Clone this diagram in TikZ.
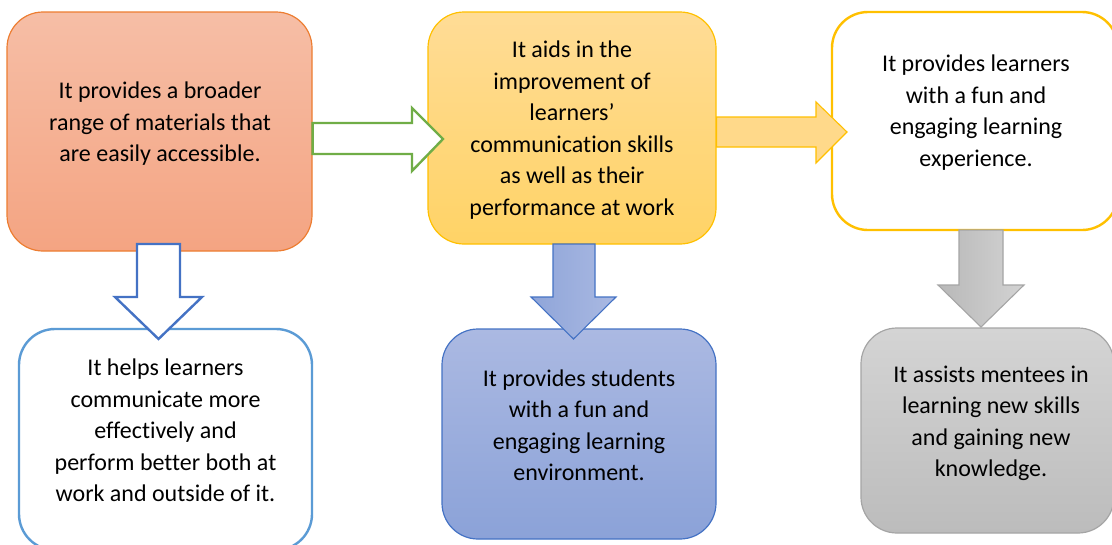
\documentclass[tikz,border=0pt]{standalone}
\usepackage{fontspec}
\setmainfont{Carlito}[Ligatures={NoCommon}]
\usetikzlibrary{calc}
\definecolor{orT}{HTML}{F6BEA6}
\definecolor{orB}{HTML}{F4A482}
\definecolor{orD}{HTML}{ED7D31}
\definecolor{yeT}{HTML}{FFDC96}
\definecolor{yeB}{HTML}{FFD366}
\definecolor{gold}{HTML}{FFC000}
\definecolor{yeA}{HTML}{FFD98A}
\definecolor{blT}{HTML}{ABB9E2}
\definecolor{blB}{HTML}{8BA2D8}
\definecolor{blD}{HTML}{4472C4}
\definecolor{blL}{HTML}{8FA5D9}
\definecolor{blR}{HTML}{AAB9E2}
\definecolor{lbD}{HTML}{5B9BD5}
\definecolor{grT}{HTML}{D4D4D4}
\definecolor{grB}{HTML}{BCBCBC}
\definecolor{grD}{HTML}{A5A5A5}
\definecolor{grL}{HTML}{B8B8B8}
\definecolor{grR}{HTML}{D3D3D3}
\definecolor{grnD}{HTML}{70AD47}
\begin{document}
\begin{tikzpicture}[x=1pt,y=-1pt,
  box/.style={rectangle, rounded corners=36pt, inner sep=0pt, line width=1.2pt},
  txt/.style={font=\fontsize{24}{31.5}\selectfont, align=center, text=black, inner sep=0pt},
  outarrow/.style={fill=white, line width=2.4pt, line join=miter},
  solidarrow/.style={line width=1.1pt, line join=miter}]
\useasboundingbox (0,0) rectangle (1112,544);
\clip (0,0) rectangle (1112,544);
\fill[white] (0,0) rectangle (1112,544);

% boxes
\node[box, draw=orD, top color=orT, bottom color=orB, minimum width=305pt, minimum height=239pt] (o) at (159.5,131.5) {};
\node[box, draw=gold, top color=yeT, bottom color=yeB, minimum width=288pt, minimum height=232pt] (y) at (572,128) {};
\node[box, draw=gold, line width=2.4pt, fill=white, minimum width=286pt, minimum height=218pt] (w) at (975,121) {};
\node[box, draw=lbD, line width=2.4pt, fill=white, minimum width=293pt, minimum height=221pt] (lb) at (165.5,439.5) {};
\node[box, draw=blD, top color=blT, bottom color=blB, minimum width=274pt, minimum height=210pt] (b) at (579,434) {};
\node[box, draw=grD, top color=grT, bottom color=grB, minimum width=253pt, minimum height=205pt] (g) at (987.5,430.5) {};

% arrows
\coordinate (gt) at (443,139);
\draw[outarrow, draw=grnD] (o.east |- 0,123) -- (412,123) -- (412,108) -- (gt) -- (412,171) -- (412,154) -- (o.east |- 0,154) -- cycle;
\coordinate (yt) at (847,132);
\draw[solidarrow, draw=gold, fill=yeA] (y.east |- 0,117) -- (816,117) -- (816,102) -- (yt) -- (816,163) -- (816,147) -- (y.east |- 0,147) -- cycle;
\coordinate (bt1) at (158.5,339);
\draw[outarrow, draw=blD] (137,244) -- (180,244) -- (180,297) -- (202,297) -- (bt1) -- (115,297) -- (137,297) -- cycle;
\coordinate (bt2) at (573.5,339);
\draw[solidarrow, draw=blD, left color=blL, right color=blR] (553,244) -- (595,244) -- (595,297) -- (616,297) -- (bt2) -- (531,297) -- (553,297) -- cycle;
\coordinate (gt2) at (981,327);
\draw[solidarrow, draw=grD, left color=grL, right color=grR] (959,230) -- (1003,230) -- (1003,285) -- (1024,285) -- (gt2) -- (938,285) -- (959,285) -- cycle;

% texts
\node[txt] (ot) at (160,124) {It provides a broader\\range of materials that\\are easily accessible.};
\node[txt] (yt2) at (572,130) {It aids in the\\improvement of\\learners’\\communication skills\\as well as their\\performance at work};
\node[txt] (wt) at (976,112.5) {It provides learners\\with a fun and\\engaging learning\\experience.};
\node[txt] (lbt) at (165.5,430.5) {It helps learners\\communicate more\\effectively and\\perform better both at\\work and outside of it.};
\node[txt] (bt) at (579,425.5) {It provides students\\with a fun and\\engaging learning\\environment.};
\node[txt] (gtx) at (991,423.5) {It assists mentees in\\learning new skills\\and gaining new\\knowledge.};
\end{tikzpicture}
\end{document}
